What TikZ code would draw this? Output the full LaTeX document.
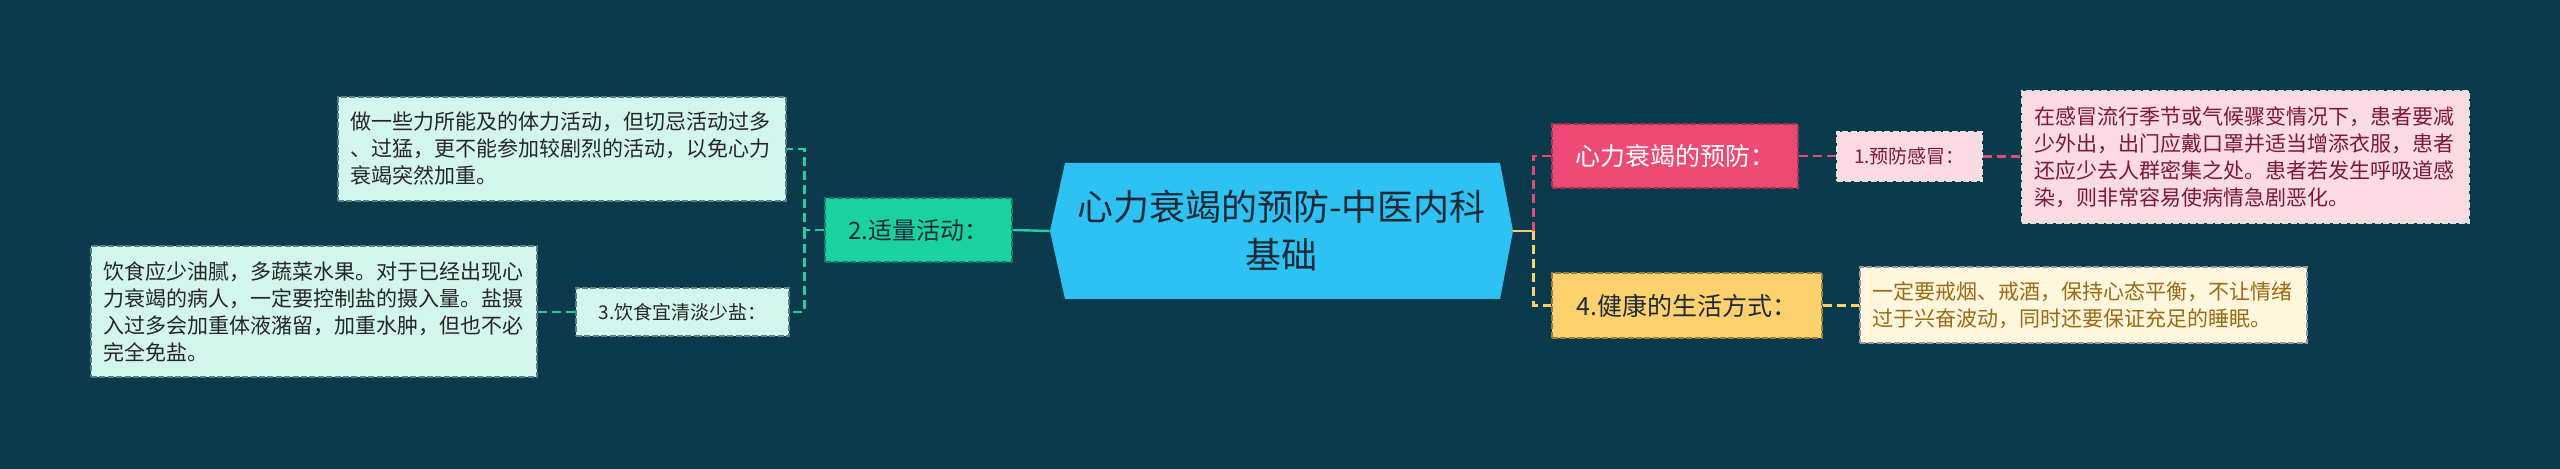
\documentclass[tikz,border=0pt]{standalone}
\usepackage{fontspec}
\setmainfont{Noto Sans CJK SC}
\usetikzlibrary{positioning}

\definecolor{bgblue}{HTML}{0B3A4D}
\definecolor{ctrblue}{HTML}{2EC1F3}
\definecolor{ctrtext}{HTML}{1E2B36}
\definecolor{tealfill}{HTML}{1AD1A0}
\definecolor{tealline}{HTML}{2BC9A4}
\definecolor{mintfill}{HTML}{D2F5EE}
\definecolor{pinkfill}{HTML}{EE4B74}
\definecolor{pinkline}{HTML}{E04C78}
\definecolor{rosefill}{HTML}{FADBE2}
\definecolor{rosetext}{HTML}{7E1836}
\definecolor{goldfill}{HTML}{FED16F}
\definecolor{goldline}{HTML}{F7D26C}
\definecolor{creamfill}{HTML}{FFF6DE}
\definecolor{creamtext}{HTML}{9B6A12}

\tikzset{
  dashbox/.style = {draw, dashed, line width=0.6pt, dash pattern=on 3pt off 1.2pt},
  detail/.style = {dashbox, align=left, inner xsep=6pt, inner ysep=0pt,
    font=\fontsize{10.5pt}{13.5pt}\selectfont},
  hexbox/.style = {path picture={
      \fill[ctrblue] (path picture bounding box.west)
      -- ([xshift=7.5pt]path picture bounding box.north west)
      -- ([xshift=-6.5pt]path picture bounding box.north east)
      -- (path picture bounding box.east)
      -- ([xshift=-6.5pt]path picture bounding box.south east)
      -- ([xshift=7.5pt]path picture bounding box.south west) -- cycle;}},
  conn/.style = {line width=1.2pt},
  dashconn/.style = {conn, dash pattern=on 4.5pt off 2.5pt}
}

\begin{document}
\begin{tikzpicture}[x=0.5pt, y=-0.5pt]
    \fill[bgblue] (0,0) rectangle (2560,469);
    \useasboundingbox (0,0) rectangle (2560,469);

    % centre
    \node (ctr) [hexbox, text=ctrtext, minimum width=231.5pt, minimum height=68pt,
    inner sep=0pt, align=center, font=\fontsize{18pt}{24pt}\selectfont]
    at (1281.5,231) {心力衰竭的预防-中医内科\\基础};

    % left branch
    \node (act) [dashbox, draw=tealline!60!black, fill=tealfill, text=ctrtext,
    minimum width=93.5pt, minimum height=32pt, font=\fontsize{12pt}{14pt}\selectfont]
    at (918.5,230) {2.适量活动：};

    \node (sport) [detail, draw=gray!70!teal, fill=mintfill, text=black!85,
    text width=212pt, minimum height=52pt] at (562,149)
    {做一些力所能及的体力活动，但切忌活动过多\\、过猛，更不能参加较剧烈的活动，以免心力\\衰竭突然加重。};

    \node (diet) [dashbox, draw=gray!70!teal, fill=mintfill, text=black!85,
    minimum width=106.5pt, minimum height=24pt, font=\fontsize{9.5pt}{11pt}\selectfont]
    at (682.5,312) {3.饮食宜清淡少盐：};

    \node (salt) [detail, draw=gray!70!teal, fill=mintfill, text=black!85,
    text width=211pt, minimum height=65.5pt] at (314,311.5)
    {饮食应少油腻，多蔬菜水果。对于已经出现心\\力衰竭的病人，一定要控制盐的摄入量。盐摄\\入过多会加重体液潴留，加重水肿，但也不必\\完全免盐。};

    % right branch
    \node (prev) [dashbox, draw=pinkfill!70!black, fill=pinkfill, text=white,
    minimum width=123pt, minimum height=32pt, font=\fontsize{12.5pt}{14pt}\selectfont]
    at (1675,156) {心力衰竭的预防：};

    \node (cold) [dashbox, draw=white!80!gray, fill=rosefill, text=rosetext,
    minimum width=72.5pt, minimum height=24.5pt, font=\fontsize{9.5pt}{11pt}\selectfont]
    at (1909.5,156.5) {1.预防感冒：};

    \node (flu) [detail, draw=white!75!gray, fill=rosefill, text=rosetext,
    text width=211.5pt, minimum height=66pt] at (2245.5,157)
    {在感冒流行季节或气候骤变情况下，患者要减\\少外出，出门应戴口罩并适当增添衣服，患者\\还应少去人群密集之处。患者若发生呼吸道感\\染，则非常容易使病情急剧恶化。};

    \node (life) [dashbox, draw=goldfill!60!black, fill=goldfill, text=ctrtext,
    minimum width=135pt, minimum height=32.5pt, font=\fontsize{12.5pt}{14pt}\selectfont]
    at (1687,305.5) {4.健康的生活方式：};

    \node (habit) [detail, draw=gray!80, fill=creamfill, text=creamtext,
    text width=211.5pt, minimum height=38pt] at (2083.5,305)
    {一定要戒烟、戒酒，保持心态平衡，不让情绪\\过于兴奋波动，同时还要保证充足的睡眠。};

    % connectors
    \path[conn, tealline] (ctr.west) edge (act.east);
    \draw[dashconn, tealline] (act.west) -- ++(-10pt,0) coordinate (lbus)
    |- (sport.east);
    \draw[dashconn, tealline] (lbus) |- (diet.east);
    \path[dashconn, tealline] (diet.west) edge (diet.west -| salt.east);

    \draw[conn, goldline] (ctr.east) -- ++(10pt,0) coordinate (rbus);
    \draw[dashconn, pinkline] (rbus) |- (prev.west);
    \draw[dashconn, goldline] (rbus) |- (life.west);
    \path[dashconn, pinkline] (prev.east) edge (prev.east -| cold.west);
    \path[dashconn, pinkline] (cold.east) edge (cold.east -| flu.west);
    \path[dashconn, goldline] (life.east) edge (life.east -| habit.west);
\end{tikzpicture}
\end{document}
